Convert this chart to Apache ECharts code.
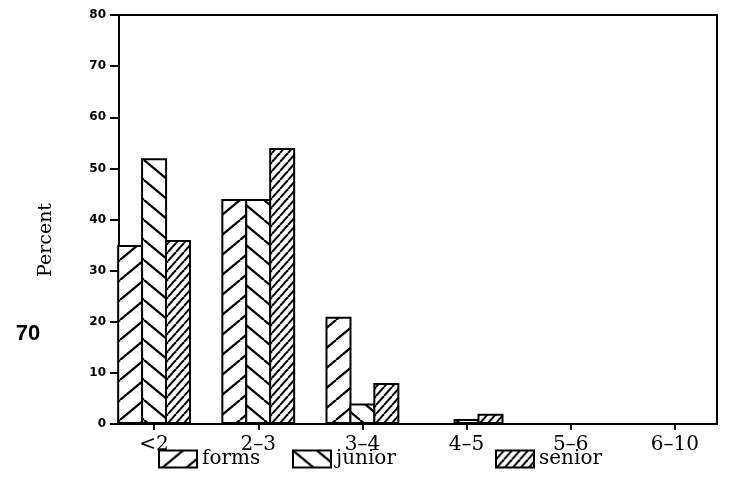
<!DOCTYPE html>
<html>
<head>
<meta charset="utf-8">
<script src="https://cdn.jsdelivr.net/npm/echarts@6/dist/echarts.min.js"></script>
<style>
    html, body { margin: 0; padding: 0; background: #fff; }
    #chart { width: 732px; height: 503px; }
</style>
</head>
<body>
<div id="chart"></div>
<script>
// length class of the figure, percent per group
const categories = ['<2', '2\u20133', '3\u20134', '4\u20135', '5\u20136', '6\u201310'];
const forms = [35, 44, 21, 0, 0, 0];
const junior = [52, 44, 4, 1, 0, 0];
const senior = [36, 54, 8, 2, 0, 0];
const yMin = 0;
const yMax = 80;
const yStep = 10;

const serif = 'DejaVu Serif';

// hatch tile: dir 1 = "/", dir -1 = "\"
function hatch(w, h, lw, dir) {
    let c = document.createElement('canvas');
    c.width = w;
    c.height = h;
    let g = c.getContext('2d');
    g.fillStyle = '#fff';
    g.fillRect(0, 0, w, h);
    g.strokeStyle = '#000';
    g.lineWidth = lw;
    for (let k = -1; k <= 1; k++) {
        g.beginPath();
        if (dir > 0) {
            g.moveTo(k * w, h);
            g.lineTo(k * w + w, 0);
        } else {
            g.moveTo(k * w, 0);
            g.lineTo(k * w + w, h);
        }
        g.stroke();
    }
    return { image: c, repeat: 'repeat' };
}

function barSeries(name, data, fill) {
    return {
        name: name,
        type: 'bar',
        xAxisIndex: 1,
        yAxisIndex: 1,
        barWidth: 26,
        barGap: '-8%',
        itemStyle: {
            color: fill,
            borderColor: '#000',
            borderWidth: 2
        },
        emphasis: { disabled: true },
        data: data
    };
}

function legendAt(name, left) {
    return {
        data: [name],
        left: left,
        top: 444,
        icon: 'rect',
        itemWidth: 38,
        itemHeight: 17,
        selectedMode: false,
        textStyle: { fontFamily: serif, fontSize: 20, color: '#000' }
    };
}

function getOption() {
    return {
        animation: false,
        backgroundColor: '#fff',
        legend: [
            legendAt('forms', 153),
            legendAt('junior', 287),
            legendAt('senior', 490)
        ],
        grid: [
            // frame with the value axis
            { left: 119, right: 15, top: 15, bottom: 79, show: true, borderColor: '#000', borderWidth: 2, backgroundColor: 'transparent' },
            // bars, band spacing as in the print
            { left: 102, right: 5, top: 15, bottom: 79 }
        ],
        xAxis: [
            { gridIndex: 0, type: 'value', show: false, min: 0, max: 1 },
            {
                gridIndex: 1,
                type: 'category',
                data: categories,
                axisLine: { show: false },
                axisTick: { show: true, alignWithLabel: true, length: 6, lineStyle: { color: '#000', width: 2 } },
                axisLabel: { color: '#000', fontFamily: serif, fontSize: 20, margin: 11 }
            }
        ],
        yAxis: [
            {
                gridIndex: 0,
                type: 'value',
                min: yMin,
                max: yMax,
                interval: yStep,
                splitLine: { show: false },
                axisLine: { show: true, lineStyle: { color: '#000', width: 2 } },
                axisTick: { show: true, length: 9, lineStyle: { color: '#000', width: 2 } },
                axisLabel: { color: '#000', fontFamily: 'DejaVu Sans', fontWeight: 'bold', fontSize: 12, margin: 13 }
            },
            { gridIndex: 1, type: 'value', min: yMin, max: yMax, show: false }
        ],
        graphic: [
            {
                type: 'text',
                x: 46,
                y: 240,
                rotation: Math.PI / 2,
                style: { text: 'Percent', fill: '#000', font: '19px "DejaVu Serif"', textAlign: 'center', textVerticalAlign: 'middle' }
            },
            {
                type: 'text',
                x: 28,
                y: 334,
                style: { text: '70', fill: '#000', font: 'bold 22px "Liberation Sans"', textAlign: 'center', textVerticalAlign: 'middle' }
            }
        ],
        series: [
            barSeries('forms', forms, hatch(24, 20, 2.2, 1)),
            barSeries('junior', junior, hatch(24, 20, 2.2, -1)),
            barSeries('senior', senior, hatch(8, 9, 2, 1))
        ]
    };
}

let myChart = echarts.init(document.getElementById('chart'));
myChart.setOption(getOption());
</script>
</body>
</html>
